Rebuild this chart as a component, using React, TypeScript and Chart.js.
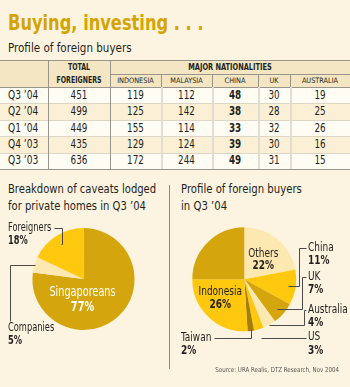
import React, { useEffect, useRef } from "react";
import { Chart, registerables } from "chart.js";

Chart.register(...registerables);

// ---------- data ----------
const quarters = ["Q3 ’04", "Q2 ’04", "Q1 ’04", "Q4 ’03", "Q3 ’03"];
const totalForeigners = [451, 499, 449, 435, 636];
const indonesia = [119, 125, 155, 129, 172];
const malaysia = [112, 142, 114, 124, 244];
const china = [48, 38, 33, 39, 49];
const uk = [30, 28, 32, 30, 31];
const australia = [19, 25, 26, 16, 15];
const nationalityHeaders = ["INDONESIA", "MALAYSIA", "CHINA", "UK", "AUSTRALIA"];

const caveatLabels = ["Singaporeans", "Companies", "Foreigners"];
const caveatValues = [77, 5, 18];

const buyerLabels = ["Others", "China", "UK", "Australia", "US", "Taiwan", "Indonesia", "Malaysia"];
const buyerValues = [22, 11, 7, 4, 3, 2, 26, 25];

// ---------- styles ----------
const BG = "#fcf4e1";
const GOLD = "#d4a50c";
const YELLOW = "#fdc80d";
const PALE = "#fde8b2";
const BROWN = "#a57d05";
const INK = "#231f20";
const LINE = "#9a958c";
const FONT = "'DejaVu Sans Condensed', 'DejaVu Sans', sans-serif";
const LABEL_SX = 0.8;

const caveatColors = [GOLD, PALE, YELLOW];
const buyerColors = [PALE, YELLOW, GOLD, PALE, YELLOW, BROWN, YELLOW, GOLD];

type Ann = {
  index: number;
  name: string;
  pct: string;
  x: number;
  y: number; // centre of first line
  gap: number;
  align: CanvasTextAlign;
  color?: string;
  size?: number;
  inside?: boolean; // x,y relative to pie centre
  leader?: { type: "h" | "v" | "line" | "hv"; f: number; elbowX?: number; startX?: number; startY?: number };
};

function PieChart(props: {
  labels: string[];
  values: number[];
  colors: string[];
  left: number;
  top: number;
  width: number;
  height: number;
  padding: { left: number; right: number; top: number; bottom: number };
  anns: Ann[];
}) {
  const ref = useRef<HTMLCanvasElement>(null);
  useEffect(() => {
    const { left, top, anns } = props;
    const drawText = (ctx: CanvasRenderingContext2D, s: string, x: number, y: number) => {
      ctx.save();
      ctx.translate(x, y);
      ctx.scale(LABEL_SX, 1);
      ctx.fillText(s, 0, 0);
      ctx.restore();
    };
    const plugin = {
      id: "pieLabels",
      afterDatasetsDraw(chart: any) {
        const ctx: CanvasRenderingContext2D = chart.ctx;
        const meta = chart.getDatasetMeta(0);
        ctx.save();
        for (const a of anns) {
          const arc = meta.data[a.index];
          const p = arc.getProps(["x", "y", "startAngle", "endAngle", "outerRadius"], true);
          const size = a.size || 12;
          let tx = a.x - left;
          let ty = a.y - top;
          if (a.inside) {
            tx = p.x + a.x;
            ty = p.y + a.y;
          }
          ctx.fillStyle = a.color || INK;
          ctx.textAlign = a.align;
          ctx.textBaseline = "middle";
          ctx.font = `400 ${size}px ${FONT}`;
          drawText(ctx, a.name, tx, ty);
          const nameW = ctx.measureText(a.name).width * LABEL_SX;
          ctx.font = `700 ${size}px ${FONT}`;
          drawText(ctx, a.pct, tx, ty + a.gap);
          if (a.leader) {
            const L = a.leader;
            const mid = (p.startAngle + p.endAngle) / 2;
            const r = p.outerRadius * L.f;
            const px = p.x + Math.cos(mid) * r;
            const py = p.y + Math.sin(mid) * r;
            const pts: [number, number][] = [];
            if (L.type === "h") {
              const sx = L.startX === undefined ? tx + nameW + 3 : L.startX - left;
              const ex = (L.elbowX as number) - left;
              pts.push([sx, ty], [ex, ty], [ex, py], [px, py]);
            } else if (L.type === "v") {
              const sx = (L.startX as number) - left;
              const sy = (L.startY as number) - top;
              pts.push([sx, sy], [sx, py], [px, py]);
            } else if (L.type === "line") {
              const sx = (L.startX as number) - left;
              pts.push([sx, py], [px, py]);
            } else {
              const sx = tx + nameW + 3;
              pts.push([sx, ty], [px, ty], [px, py]);
            }
            ctx.strokeStyle = "#4a4a4a";
            ctx.lineWidth = 1;
            ctx.beginPath();
            pts.forEach(([x, y], i) => {
              const X = Math.round(x) + 0.5;
              const Y = Math.round(y) + 0.5;
              if (i === 0) ctx.moveTo(X, Y);
              else ctx.lineTo(X, Y);
            });
            ctx.stroke();
          }
        }
        ctx.restore();
      },
    };
    const chart = new Chart(ref.current as HTMLCanvasElement, {
      type: "pie",
      data: {
        labels: props.labels,
        datasets: [{ data: props.values, backgroundColor: props.colors, borderWidth: 0 }],
      },
      options: {
        animation: false,
        responsive: false,
        maintainAspectRatio: false,
        events: [],
        layout: { padding: props.padding },
        plugins: { legend: { display: false }, tooltip: { enabled: false } },
      },
      plugins: [plugin],
    } as any);
    return () => chart.destroy();
  }, []);
  return (
    <canvas
      ref={ref}
      width={props.width}
      height={props.height}
      style={{ position: "absolute", left: props.left, top: props.top, width: props.width, height: props.height }}
    />
  );
}

function Txt(p: {
  x: number;
  y: number;
  w?: number;
  size: number;
  bold?: boolean;
  color?: string;
  align?: any;
  sx?: number;
  children: any;
}) {
  const lh = Math.ceil(p.size * 1.4);
  const align = p.align || "left";
  return (
    <div
      style={{
        position: "absolute",
        left: p.x,
        top: p.y - lh / 2,
        width: p.w,
        height: lh,
        lineHeight: `${lh}px`,
        fontSize: p.size,
        fontWeight: p.bold ? 700 : 400,
        color: p.color || INK,
        textAlign: align,
        whiteSpace: "nowrap",
        transform: `scaleX(${p.sx || 1})`,
        transformOrigin: align === "center" ? "center" : align,
      }}
    >
      {p.children}
    </div>
  );
}

function HLine(p: { x: number; y: number; w: number; color: string; h?: number }) {
  return <div style={{ position: "absolute", left: p.x, top: p.y, width: p.w, height: p.h || 1, background: p.color }} />;
}
function VLine(p: { x: number; y: number; h: number; color: string; w?: number }) {
  return <div style={{ position: "absolute", left: p.x, top: p.y, width: p.w || 1, height: p.h, background: p.color }} />;
}

const COLS = [
  { x: 0, w: 48 },
  { x: 48, w: 62 },
  { x: 110, w: 51 },
  { x: 161, w: 51 },
  { x: 212, w: 46 },
  { x: 258, w: 32 },
  { x: 290, w: 60 },
];
const T_TOP = 60;
const H_MID = 74;
const H_BOT = 87;
const ROW_H = 16.4;

export default function App() {
  useEffect(() => {
    document.body.style.margin = "0";
  }, []);
  const dataCols = [totalForeigners, indonesia, malaysia, china, uk, australia];
  const T_BOT = H_BOT + ROW_H * quarters.length;

  const caveatAnns: Ann[] = [
    { index: 2, name: "Foreigners", pct: "18%", x: 8, y: 228, gap: 13.5, align: "left", size: 11.5, leader: { type: "h", f: 0.82, elbowX: 62 } },
    { index: 1, name: "Companies", pct: "5%", x: 8, y: 328, gap: 13.5, align: "left", size: 11.5, leader: { type: "v", f: 1.0, startX: 10, startY: 321 } },
    { index: 0, name: "Singaporeans", pct: "77%", x: -1, y: 13, gap: 15, align: "center", size: 13.5, color: "#ffffff", inside: true },
  ];
  const buyerAnns: Ann[] = [
    { index: 0, name: "Others", pct: "22%", x: 19, y: -26, gap: 12.5, align: "center", size: 12.5, inside: true },
    { index: 6, name: "Indonesia", pct: "26%", x: -24, y: 12.5, gap: 12.5, align: "center", size: 12.5, inside: true },
    { index: 1, name: "China", pct: "11%", x: 308, y: 248, gap: 13, align: "left", size: 12.5, leader: { type: "h", f: 0.85, startX: 306, elbowX: 299 } },
    { index: 2, name: "UK", pct: "7%", x: 308, y: 276.5, gap: 13, align: "left", size: 12.5, leader: { type: "h", f: 0.85, startX: 306, elbowX: 302 } },
    { index: 3, name: "Australia", pct: "4%", x: 308, y: 310, gap: 13, align: "left", size: 12.5, leader: { type: "h", f: 1.0, startX: 306, elbowX: 304 } },
    { index: 4, name: "US", pct: "3%", x: 308, y: 337, gap: 13.5, align: "left", size: 12.5, leader: { type: "line", f: 1.17, startX: 306 } },
    { index: 5, name: "Taiwan", pct: "2%", x: 181, y: 337.5, gap: 13.5, align: "left", size: 12.5, leader: { type: "hv", f: 0.97 } },
  ];

  return (
    <div
      style={{
        position: "absolute",
        left: 0,
        top: 0,
        width: 350,
        height: 387,
        background: BG,
        overflow: "hidden",
        fontFamily: FONT,
      }}
    >
      <Txt x={8} y={23} size={21} bold color="#d6a400" sx={0.86}>Buying, investing . . .</Txt>
      <Txt x={8} y={47.5} size={12.5} sx={0.92}>Profile of foreign buyers</Txt>

      {/* table header background */}
      <div style={{ position: "absolute", left: 0, top: T_TOP, width: 350, height: H_BOT - T_TOP, background: "#f4e6c3" }} />
      {quarters.map((q, i) => (
        <div
          key={"bg" + i}
          style={{
            position: "absolute",
            left: 0,
            top: H_BOT + i * ROW_H,
            width: 350,
            height: ROW_H,
            background: i % 2 === 0 ? "#fffcf4" : "#fbf0d6",
          }}
        />
      ))}
      <HLine x={0} y={T_TOP} w={350} color={LINE} />
      <HLine x={110} y={H_MID} w={240} color={LINE} />
      <HLine x={0} y={H_BOT} w={350} color={LINE} />
      {quarters.map((q, i) =>
        i > 0 ? <HLine key={"rl" + i} x={0} y={Math.round(H_BOT + i * ROW_H)} w={350} color="#ddd6c6" /> : null
      )}
      <HLine x={0} y={Math.round(T_BOT)} w={350} color={LINE} />
      <VLine x={48} y={T_TOP} h={T_BOT - T_TOP} color={LINE} />
      <VLine x={110} y={T_TOP} h={T_BOT - T_TOP} color={LINE} />
      {[161, 212, 258, 290].map((x) => (
        <React.Fragment key={"v" + x}>
          <VLine x={x} y={H_MID} h={H_BOT - H_MID} color={LINE} />
          <VLine x={x} y={H_BOT} h={T_BOT - H_BOT} color="#e2ddd2" w={2} />
        </React.Fragment>
      ))}

      <Txt x={48} w={62} y={68} size={8} bold align="center" sx={0.87}>TOTAL</Txt>
      <Txt x={48} w={62} y={80.5} size={8} bold align="center" sx={0.87}>FOREIGNERS</Txt>
      <Txt x={110} w={240} y={68} size={8} bold align="center" sx={0.92}>MAJOR NATIONALITIES</Txt>
      {nationalityHeaders.map((h, j) => (
        <Txt key={h} x={COLS[j + 2].x} w={COLS[j + 2].w} y={80.5} size={7.5} align="center" sx={0.97}>
          {h}
        </Txt>
      ))}
      {quarters.map((q, i) => (
        <React.Fragment key={q}>
          <Txt x={8} y={H_BOT + i * ROW_H + ROW_H / 2} size={11.5} sx={0.88}>{q}</Txt>
          {dataCols.map((col, j) => (
            <Txt
              key={j}
              x={COLS[j + 1].x}
              w={COLS[j + 1].w}
              y={H_BOT + i * ROW_H + ROW_H / 2}
              size={11.5}
              bold={j === 3}
              align="center"
              sx={0.85}
            >
              {col[i]}
            </Txt>
          ))}
        </React.Fragment>
      ))}

      <VLine x={169} y={185} h={184} color="#8d8a85" />
      <Txt x={8} y={189} size={12.5} sx={0.89}>Breakdown of caveats lodged</Txt>
      <Txt x={8} y={205.5} size={12.5} sx={0.89}>for private homes in Q3 ’04</Txt>
      <Txt x={181} y={189} size={12.5} sx={0.9}>Profile of foreign buyers</Txt>
      <Txt x={181} y={205.5} size={12.5} sx={0.9}>in Q3 ’04</Txt>

      <PieChart
        labels={caveatLabels}
        values={caveatValues}
        colors={caveatColors}
        left={0}
        top={215}
        width={169}
        height={160}
        padding={{ left: 32.5, right: 34.5, top: 13, bottom: 45 }}
        anns={caveatAnns}
      />
      <PieChart
        labels={buyerLabels}
        values={buyerValues}
        colors={buyerColors}
        left={170}
        top={215}
        width={180}
        height={160}
        padding={{ left: 22.3, right: 53.7, top: 12.3, bottom: 43.7 }}
        anns={buyerAnns}
      />
      <Txt x={170} w={169} y={370} size={6.8} color="#555" align="right" sx={0.9}>
        Source: URA Realis, DTZ Research, Nov 2004
      </Txt>
    </div>
  );
}
